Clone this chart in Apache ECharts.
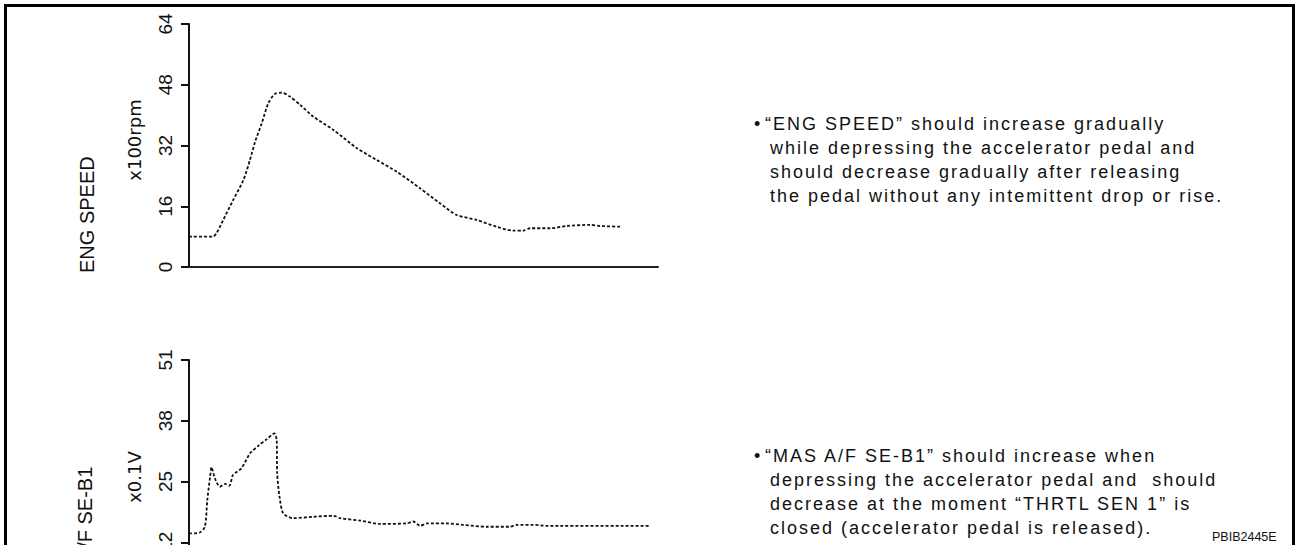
<!DOCTYPE html>
<html>
<head>
<meta charset="utf-8">
<script src="https://cdn.jsdelivr.net/npm/echarts@6/dist/echarts.min.js"></script>
<style>
  html, body { margin: 0; padding: 0; background: #fff; overflow: hidden; }
  /* taller than the window: the lower panel runs past the bottom edge, as in the original */
  #main { width: 1296px; height: 660px; }
</style>
</head>
<body>
<div id="main"></div>
<script>
// ENG SPEED trace, x100rpm
const engTime  = [0, 5.1, 5.9, 7.3, 9.4, 11.6, 13.0, 14.1, 15.5, 16.9, 18.3, 19.8, 21.5, 23.7, 26.5, 30.8, 35.8, 40.0, 44.3, 49.3, 53.5, 57.1, 61.3, 65.6, 69.1, 71.3, 72.7, 77.0, 80.5, 85.5, 87.6, 92.3];
const engSpeed = [8.0, 8.0, 9.0, 12.4, 17.6, 22.9, 28.2, 33.0, 37.8, 43.1, 45.6, 45.9, 44.9, 42.7, 39.6, 36.1, 31.3, 28.2, 25.1, 20.7, 16.8, 13.7, 12.4, 10.6, 9.6, 9.6, 10.2, 10.2, 10.8, 11.1, 10.8, 10.6];

// MAS A/F SE-B1 trace, x0.1V
const mafTime = [0, 2.3, 3.4, 3.9, 4.5, 4.8, 5.5, 6.6, 7.7, 8.6, 9.4, 11.2, 13.0, 14.8, 16.6, 18.2, 18.7, 18.8, 19.3, 20.1, 22.2, 26.5, 30.8, 32.2, 36.5, 40.7, 46.4, 47.8, 49.3, 50.7, 54.9, 58.5, 63.5, 68.4, 69.9, 73.4, 76.3, 98.3];
const mafVolt = [14.6, 14.8, 16.0, 21.6, 26.5, 28.5, 26.2, 24.4, 25.0, 24.6, 26.9, 28.3, 31.4, 33.0, 34.4, 35.6, 34.2, 27.2, 22.3, 18.8, 17.8, 18.1, 18.3, 17.8, 17.3, 16.6, 16.7, 17.1, 16.2, 16.7, 16.7, 16.4, 16.0, 16.0, 16.4, 16.4, 16.2, 16.2];

const engTicks = ['0', '16', '32', '48', '64'];
const mafTicks = ['0', '12', '25', '38', '51'];

const engNote = [
  '“ENG SPEED” should increase gradually',
  'while depressing the accelerator pedal and',
  'should decrease gradually after releasing',
  'the pedal without any intemittent drop or rise.'
];
const mafNote = [
  '“MAS A/F SE-B1” should increase when',
  'depressing the accelerator pedal and  should',
  'decrease at the moment “THRTL SEN 1” is',
  'closed (accelerator pedal is released).'
];

const chartDom = document.getElementById('main');
const myChart = echarts.init(chartDom, null, { renderer: 'svg' });

const FONT = '"Liberation Sans", Arial, sans-serif';
const ink = '#111';

function yAxisFor(grid, max, ticks) {
  return {
    type: 'value',
    gridIndex: grid,
    min: 0,
    max: max,
    interval: max / 4,
    axisLine: { show: true, lineStyle: { color: ink, width: 2 } },
    axisTick: { show: true, length: 8, lineStyle: { color: ink, width: 2 } },
    axisLabel: {
      rotate: 90,
      margin: 14,
      fontSize: 19,
      fontFamily: FONT,
      color: ink,
      formatter: (v, i) => ticks[i]
    },
    splitLine: { show: false }
  };
}

function xAxisFor(grid) {
  return {
    type: 'value',
    gridIndex: grid,
    min: 0,
    max: 100,
    axisLine: { show: true, onZero: false, lineStyle: { color: '#222', width: 2 } },
    axisTick: { show: false },
    axisLabel: { show: false },
    splitLine: { show: false }
  };
}

function trace(grid, xs, ys) {
  return {
    type: 'line',
    xAxisIndex: grid,
    yAxisIndex: grid,
    smooth: 0.25,
    symbol: 'none',
    lineStyle: { color: ink, width: 1.8, type: [3, 2] },
    data: xs.map((t, i) => [t, ys[i]])
  };
}

function noteTexts(lines, top) {
  const out = [{
    type: 'text', x: 754, y: top,
    style: { text: '•', font: '18px ' + FONT, fill: ink, textAlign: 'left', textVerticalAlign: 'middle' }
  }];
  lines.forEach((line, i) => {
    out.push({
      type: 'text', x: i === 0 ? 765 : 770, y: top + i * 24,
      style: { text: line, font: '18px ' + FONT, fill: ink, textAlign: 'left', textVerticalAlign: 'middle' }
    });
  });
  return out;
}

function vText(text, x, y, font, align) {
  return {
    type: 'text', x: x, y: y, rotation: Math.PI / 2,
    style: { text: text, font: font, fill: ink, textAlign: align, textVerticalAlign: 'middle' }
  };
}

const option = {
  animation: false,
  grid: [
    { left: 189, top: 24, width: 469, height: 243 },
    { left: 189, top: 360, width: 469, height: 243 }
  ],
  xAxis: [xAxisFor(0), xAxisFor(1)],
  yAxis: [yAxisFor(0, 64, engTicks), yAxisFor(1, 51, mafTicks)],
  series: [trace(0, engTime, engSpeed), trace(1, mafTime, mafVolt)],
  graphic: [
    {
      type: 'rect',
      shape: { x: 5.5, y: 5.5, width: 1288, height: 640 },
      style: { fill: 'none', stroke: '#000', lineWidth: 3 }
    },
    vText('ENG SPEED', 87, 273, '20px ' + FONT, 'left'),
    vText('MAS A/F SE-B1', 85, 609, '20px ' + FONT, 'left'),
    vText('x100rpm', 134, 140, '18px "DejaVu Sans", sans-serif', 'center'),
    vText('x0.1V', 134, 477, '18px "DejaVu Sans", sans-serif', 'center'),
    ...noteTexts(engNote, 123.5),
    ...noteTexts(mafNote, 455.5),
    {
      type: 'text', x: 1212, y: 537,
      style: { text: 'PBIB2445E', font: '12.5px ' + FONT, fill: ink, textAlign: 'left', textVerticalAlign: 'middle' }
    }
  ]
};

myChart.setOption(option);

// the notes in the original are set with wide letter spacing
const spaced = engNote.concat(mafNote);
chartDom.querySelectorAll('text').forEach(el => {
  if (spaced.includes(el.textContent)) el.style.letterSpacing = '2px';
});
</script>
</body>
</html>
